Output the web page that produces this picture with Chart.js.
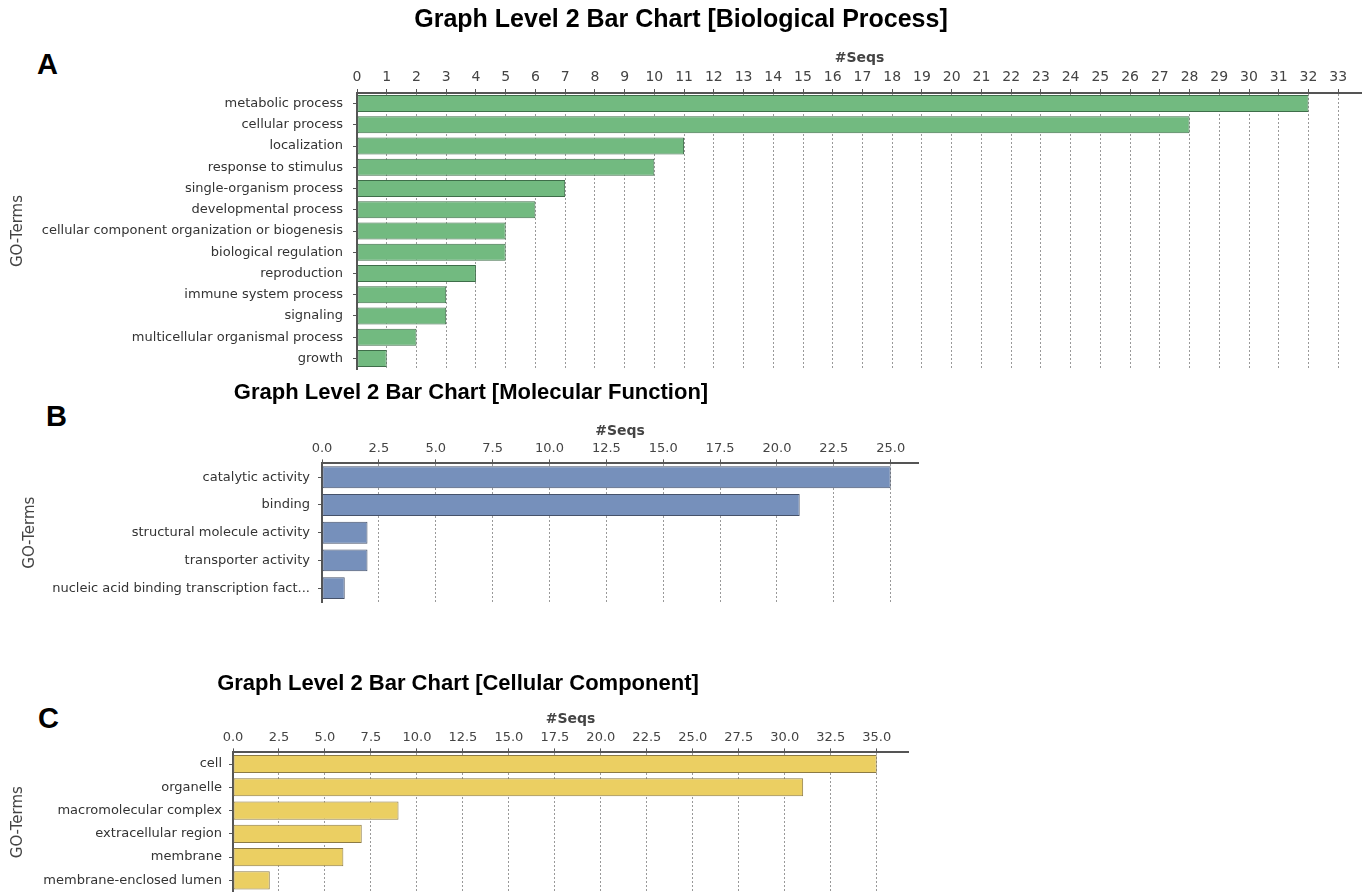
<!DOCTYPE html>
<html>
<head>
<meta charset="utf-8">
<script src="https://cdn.jsdelivr.net/npm/chart.js@4.4.1/dist/chart.umd.min.js"></script>
<style>
  body { margin: 0; background: #fff; width: 1362px; height: 892px; position: relative; overflow: hidden; }
  canvas { position: absolute; left: 0; }
  .panel { position: absolute; font-family: "Liberation Sans", Arial, sans-serif; font-weight: bold; font-size: 29px; color: #000; }
</style>
</head>
<body>
<div class="panel" style="left:37px;top:48px;">A</div>
<div class="panel" style="left:46px;top:400px;">B</div>
<div class="panel" style="left:38px;top:702px;">C</div>
<canvas id="chartA" style="top:0px"></canvas>
<canvas id="chartB" style="top:375px"></canvas>
<canvas id="chartC" style="top:660px"></canvas>
<script>
const bioLabels = ['metabolic process', 'cellular process', 'localization', 'response to stimulus',
  'single-organism process', 'developmental process', 'cellular component organization or biogenesis',
  'biological regulation', 'reproduction', 'immune system process', 'signaling',
  'multicellular organismal process', 'growth'];
const bioSeqs = [32, 28, 11, 10, 7, 6, 5, 5, 4, 3, 3, 2, 1];

const molLabels = ['catalytic activity', 'binding', 'structural molecule activity',
  'transporter activity', 'nucleic acid binding transcription fact...'];
const molSeqs = [25, 21, 2, 2, 1];

const cellLabels = ['cell', 'organelle', 'macromolecular complex', 'extracellular region',
  'membrane', 'membrane-enclosed lumen'];
const cellSeqs = [35, 31, 9, 7, 6, 2];

const tickFont = { family: 'DejaVu Sans', size: 13 };

// center the chart title over the whole canvas, not just the padded area
const fullWidthTitle = {
  id: 'fullWidthTitle',
  afterLayout(chart) {
    if (chart.titleBlock) {
      chart.titleBlock.left = 0;
      chart.titleBlock.right = chart.width;
    }
  }
};

function makeChart(id, cfg) {
  const canvas = document.getElementById(id);
  canvas.width = cfg.w;
  canvas.height = cfg.h;
  canvas.style.width = cfg.w + 'px';
  canvas.style.height = cfg.h + 'px';
  return new Chart(canvas.getContext('2d'), {
    type: 'bar',
    data: {
      labels: cfg.labels,
      datasets: [{
        data: cfg.values,
        backgroundColor: cfg.fill,
        borderColor: cfg.edge,
        borderWidth: 1,
        borderSkipped: false,
        barPercentage: cfg.barPct,
        categoryPercentage: 1
      }]
    },
    plugins: [fullWidthTitle],
    options: {
      indexAxis: 'y',
      responsive: false,
      animation: false,
      layout: { autoPadding: false, padding: { top: 0, left: 0, right: cfg.padRight, bottom: cfg.padBottom } },
      plugins: {
        legend: { display: false },
        tooltip: { enabled: false },
        title: {
          display: true,
          text: cfg.title,
          color: '#000',
          font: { family: 'Liberation Sans', size: cfg.titleSize, weight: 'bold' },
          padding: { top: cfg.titleTop, bottom: 0 }
        }
      },
      scales: {
        x: {
          position: 'top',
          min: 0,
          max: cfg.max,
          afterFit: s => { s.height = cfg.xHeight; },
          ticks: {
            stepSize: cfg.step,
            includeBounds: false,
            color: '#444',
            font: { family: 'DejaVu Sans', size: cfg.xTickSize },
            padding: 3,
            maxRotation: 0,
            autoSkip: false,
            callback: v => cfg.step === 1 ? String(v) : v.toFixed(1)
          },
          grid: { color: '#999', tickColor: '#555', tickLength: 4, lineWidth: 1 },
          border: { color: '#555', width: 2, dash: [2, 2] },
          title: {
            display: true,
            text: '#Seqs',
            color: '#444',
            font: { family: 'DejaVu Sans', size: 14, weight: 'bold' },
            padding: { top: cfg.seqsTop, bottom: 0 }
          }
        },
        y: {
          afterFit: s => { s.width = cfg.yWidth; s.paddingTop = 0; s.paddingBottom = 0; },
          ticks: { color: '#333', font: tickFont, padding: cfg.labelPad, autoSkip: false },
          grid: { drawOnChartArea: false, offset: false, tickLength: 4, tickColor: '#555' },
          border: { color: '#555', width: 2 },
          title: {
            display: true,
            text: 'GO-Terms',
            color: '#444',
            font: { family: 'DejaVu Sans', size: 15 },
            padding: { top: cfg.goTop, bottom: 0 }
          }
        }
      }
    }
  });
}

makeChart('chartA', {
  w: 1362, h: 372, labels: bioLabels, values: bioSeqs,
  title: 'Graph Level 2 Bar Chart [Biological Process]', titleSize: 25,
  fill: '#72ba80', edge: '#3f6e4a', barPct: 0.8,
  max: 33.8, step: 1, xTickSize: 14, padRight: 0, padBottom: 3,
  titleTop: 5, xHeight: 58, seqsTop: 15, yWidth: 357, labelPad: 10, goTop: 9
});

makeChart('chartB', {
  w: 942, h: 230, labels: molLabels, values: molSeqs,
  title: 'Graph Level 2 Bar Chart [Molecular Function]', titleSize: 22,
  fill: '#7690bb', edge: '#46526a', barPct: 0.79,
  max: 26.2, step: 2.5, xTickSize: 13, padRight: 24, padBottom: 3,
  titleTop: 5, xHeight: 57, seqsTop: 17, yWidth: 322, labelPad: 8, goTop: 21
});

makeChart('chartC', {
  w: 916, h: 232, labels: cellLabels, values: cellSeqs,
  title: 'Graph Level 2 Bar Chart [Cellular Component]', titleSize: 22,
  fill: '#ebcf62', edge: '#8c7a44', barPct: 0.78,
  max: 36.7, step: 2.5, xTickSize: 13, padRight: 8, padBottom: 0,
  titleTop: 11, xHeight: 55, seqsTop: 14, yWidth: 233, labelPad: 7, goTop: 9
});
</script>
</body>
</html>
